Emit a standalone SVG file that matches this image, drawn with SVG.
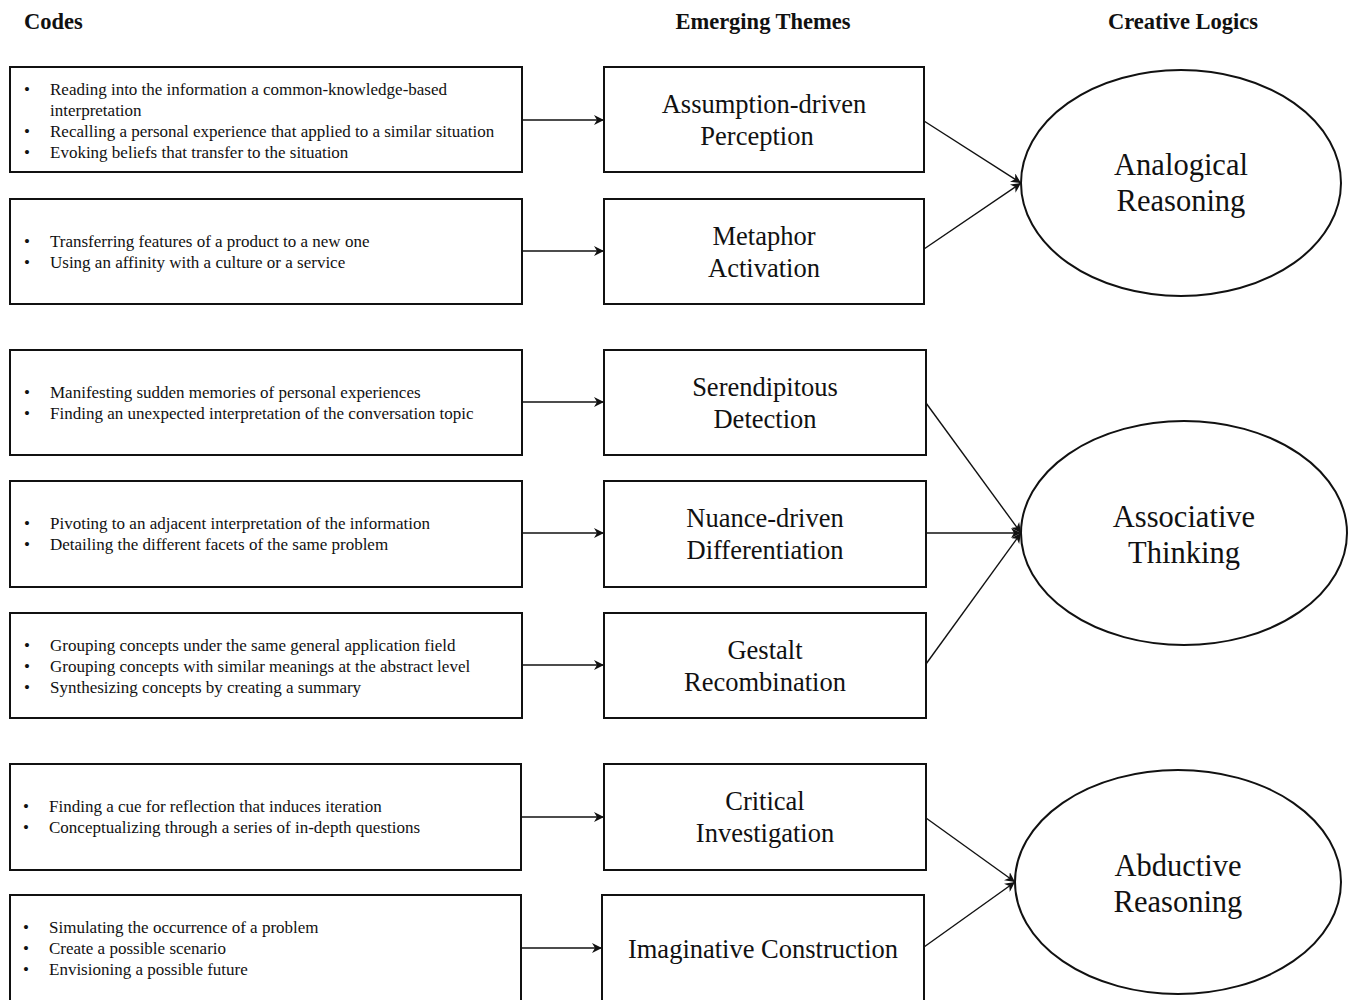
<svg xmlns="http://www.w3.org/2000/svg" width="1349" height="1000" viewBox="0 0 1349 1000">
<style>
.box{fill:#fff;stroke:#111;stroke-width:2}
.ell{fill:#fff;stroke:#111;stroke-width:2}
.hdr{font-family:"Liberation Serif",serif;font-weight:bold;font-size:22.5px;fill:#111}
.code{font-family:"Liberation Serif",serif;font-size:17px;fill:#111}
.theme{font-family:"Liberation Serif",serif;font-size:26.5px;fill:#111;text-anchor:middle}
.logic{font-family:"Liberation Serif",serif;font-size:30.5px;fill:#111;text-anchor:middle}
.conn line{stroke:#111;stroke-width:1.4;marker-end:url(#arr)}
</style>
<defs>
<marker id="arr" viewBox="0 0 10 10" refX="10" refY="5" markerWidth="10" markerHeight="10" markerUnits="userSpaceOnUse" orient="auto">
<path d="M0,0 L10,5 L0,10 L3,5 Z" fill="#111"/>
</marker>
</defs>
<rect width="1349" height="1000" fill="#fff"/>
<g id="headers">
<text class="hdr" x="24" y="29">Codes</text>
<text class="hdr" x="763" y="29" text-anchor="middle">Emerging Themes</text>
<text class="hdr" x="1183" y="29" text-anchor="middle">Creative Logics</text>
</g>
<g class="conn" id="connectors">
<line x1="522" y1="120" x2="604" y2="120"/>
<line x1="522" y1="251" x2="604" y2="251"/>
<line x1="522" y1="402" x2="604" y2="402"/>
<line x1="522" y1="533" x2="604" y2="533"/>
<line x1="522" y1="665" x2="604" y2="665"/>
<line x1="522" y1="817" x2="604" y2="817"/>
<line x1="522" y1="948" x2="602" y2="948"/>
<line x1="924" y1="121" x2="1021" y2="183"/>
<line x1="924" y1="249" x2="1021" y2="183"/>
<line x1="926" y1="403" x2="1021" y2="533"/>
<line x1="926" y1="533" x2="1021" y2="533"/>
<line x1="926" y1="664" x2="1021" y2="533"/>
<line x1="926" y1="818" x2="1015" y2="882"/>
<line x1="924" y1="947" x2="1015" y2="882"/>
</g>
<g id="code1"><rect class="box" x="10" y="67" width="512" height="105"/>
<text class="code"><tspan x="24" y="95">•</tspan><tspan x="50" y="95">Reading into the information a common-knowledge-based</tspan><tspan x="50" y="116">interpretation</tspan><tspan x="24" y="137">•</tspan><tspan x="50" y="137">Recalling a personal experience that applied to a similar situation</tspan><tspan x="24" y="158">•</tspan><tspan x="50" y="158">Evoking beliefs that transfer to the situation</tspan></text></g>
<g id="code2"><rect class="box" x="10" y="199" width="512" height="105"/>
<text class="code"><tspan x="24" y="247">•</tspan><tspan x="50" y="247">Transferring features of a product to a new one</tspan><tspan x="24" y="268">•</tspan><tspan x="50" y="268">Using an affinity with a culture or a service</tspan></text></g>
<g id="code3"><rect class="box" x="10" y="350" width="512" height="105"/>
<text class="code"><tspan x="24" y="398">•</tspan><tspan x="50" y="398">Manifesting sudden memories of personal experiences</tspan><tspan x="24" y="419">•</tspan><tspan x="50" y="419">Finding an unexpected interpretation of the conversation topic</tspan></text></g>
<g id="code4"><rect class="box" x="10" y="481" width="512" height="106"/>
<text class="code"><tspan x="24" y="529">•</tspan><tspan x="50" y="529">Pivoting to an adjacent interpretation of the information</tspan><tspan x="24" y="550">•</tspan><tspan x="50" y="550">Detailing the different facets of the same problem</tspan></text></g>
<g id="code5"><rect class="box" x="10" y="613" width="512" height="105"/>
<text class="code"><tspan x="24" y="651">•</tspan><tspan x="50" y="651">Grouping concepts under the same general application field</tspan><tspan x="24" y="672">•</tspan><tspan x="50" y="672">Grouping concepts with similar meanings at the abstract level</tspan><tspan x="24" y="693">•</tspan><tspan x="50" y="693">Synthesizing concepts by creating a summary</tspan></text></g>
<g id="code6"><rect class="box" x="10" y="764" width="511" height="106"/>
<text class="code"><tspan x="23" y="812">•</tspan><tspan x="49" y="812">Finding a cue for reflection that induces iteration</tspan><tspan x="23" y="833">•</tspan><tspan x="49" y="833">Conceptualizing through a series of in-depth questions</tspan></text></g>
<g id="code7"><rect class="box" x="10" y="895" width="511" height="120"/>
<text class="code"><tspan x="23" y="933">•</tspan><tspan x="49" y="933">Simulating the occurrence of a problem</tspan><tspan x="23" y="954">•</tspan><tspan x="49" y="954">Create a possible scenario</tspan><tspan x="23" y="975">•</tspan><tspan x="49" y="975">Envisioning a possible future</tspan></text></g>
<g id="theme1"><rect class="box" x="604" y="67" width="320" height="105"/>
<text class="theme"><tspan x="764" y="113">Assumption-driven</tspan><tspan x="757" y="145">Perception</tspan></text></g>
<g id="theme2"><rect class="box" x="604" y="199" width="320" height="105"/>
<text class="theme"><tspan x="764" y="245">Metaphor</tspan><tspan x="764" y="277">Activation</tspan></text></g>
<g id="theme3"><rect class="box" x="604" y="350" width="322" height="105"/>
<text class="theme"><tspan x="765" y="396">Serendipitous</tspan><tspan x="765" y="428">Detection</tspan></text></g>
<g id="theme4"><rect class="box" x="604" y="481" width="322" height="106"/>
<text class="theme"><tspan x="765" y="527">Nuance-driven</tspan><tspan x="765" y="559">Differentiation</tspan></text></g>
<g id="theme5"><rect class="box" x="604" y="613" width="322" height="105"/>
<text class="theme"><tspan x="765" y="659">Gestalt</tspan><tspan x="765" y="691">Recombination</tspan></text></g>
<g id="theme6"><rect class="box" x="604" y="764" width="322" height="106"/>
<text class="theme"><tspan x="765" y="810">Critical</tspan><tspan x="765" y="842">Investigation</tspan></text></g>
<g id="theme7"><rect class="box" x="602" y="895" width="322" height="120"/>
<text class="theme"><tspan x="763" y="958">Imaginative Construction</tspan></text></g>
<g id="logic1"><ellipse class="ell" cx="1181" cy="183" rx="160" ry="113"/>
<text class="logic"><tspan x="1181" y="175">Analogical</tspan><tspan x="1181" y="211">Reasoning</tspan></text></g>
<g id="logic2"><ellipse class="ell" cx="1184" cy="533" rx="163" ry="112"/>
<text class="logic"><tspan x="1184" y="527">Associative</tspan><tspan x="1184" y="563">Thinking</tspan></text></g>
<g id="logic3"><ellipse class="ell" cx="1178" cy="882" rx="163" ry="112"/>
<text class="logic"><tspan x="1178" y="876">Abductive</tspan><tspan x="1178" y="912">Reasoning</tspan></text></g>
</svg>
